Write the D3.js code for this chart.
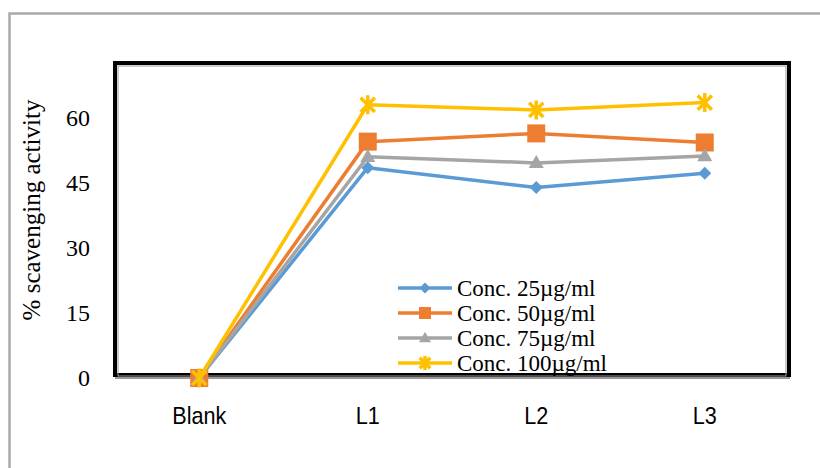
<!DOCTYPE html>
<html>
<head>
<meta charset="utf-8">
<script src="https://cdn.jsdelivr.net/npm/d3@7"></script>
<style>
  body { margin: 0; background: #fff; }
  .tick-y { font-family: 'Liberation Serif', 'Times New Roman', serif; font-size: 24px; }
  .tick-x { font-family: 'Liberation Sans', Arial, sans-serif; font-size: 24px; }
  .axis-title { font-family: 'Liberation Serif', 'Times New Roman', serif; font-size: 25px; }
  .legend text { font-family: 'Liberation Serif', 'Times New Roman', serif; font-size: 23px; }
</style>
</head>
<body>
<div class="chart"></div>
<script>
// Data
var categories = ['Blank', 'L1', 'L2', 'L3'];
var seriesNames = ['Conc. 25\u00b5g/ml', 'Conc. 50\u00b5g/ml', 'Conc. 75\u00b5g/ml', 'Conc. 100\u00b5g/ml'];
var conc25 = [0, 48.5, 43.9, 47.2];
var conc50 = [0, 54.5, 56.4, 54.3];
var conc75 = [0, 51.0, 49.6, 51.2];
var conc100 = [0, 63.0, 61.8, 63.5];
var yTicks = [0, 15, 30, 45, 60];

var seriesValues = [conc25, conc50, conc75, conc100];
var colors = ['#5B9BD5', '#ED7D31', '#A5A5A5', '#FFC000'];
var markers = ['diamond', 'square', 'triangle', 'star'];

var svgWidth = 820;
var svgHeight = 468;

var svg = d3.select('.chart')
  .append('svg')
  .attr('width', svgWidth)
  .attr('height', svgHeight);

// outer chart border (gray, runs past right/bottom edges)
svg.append('path')
  .attr('d', 'M9.5,' + svgHeight + ' V13.5 H' + svgWidth)
  .attr('fill', 'none')
  .attr('stroke', '#aaa')
  .attr('stroke-width', 2.5);

// plot area
var plot = { left: 115, right: 789, top: 64, bottom: 378 };

var xScale = d3.scalePoint()
  .domain(categories)
  .range([plot.left, plot.right])
  .padding(0.5);

var yScale = d3.scaleLinear()
  .domain([0, 72.4])
  .range([plot.bottom, plot.top]);

// frame: thick black with thin gray inner line
svg.append('rect')
  .attr('x', plot.left)
  .attr('y', plot.top - 1)
  .attr('width', plot.right - plot.left)
  .attr('height', plot.bottom - plot.top - 2)
  .attr('fill', 'none')
  .attr('stroke', '#000')
  .attr('stroke-width', 4);
svg.append('rect')
  .attr('x', plot.left + 3)
  .attr('y', plot.top + 2)
  .attr('width', plot.right - plot.left - 6)
  .attr('height', plot.bottom - plot.top - 4)
  .attr('fill', 'none')
  .attr('stroke', '#999')
  .attr('stroke-width', 1);
svg.append('line')
  .attr('x1', plot.left).attr('x2', plot.right + 1)
  .attr('y1', yScale(0)).attr('y2', yScale(0))
  .attr('stroke', '#999')
  .attr('stroke-width', 2);

// y tick labels
svg.selectAll('.tick-y')
  .data(yTicks)
  .enter()
  .append('text')
  .attr('class', 'tick-y')
  .attr('x', 90)
  .attr('y', d => yScale(d))
  .attr('dy', '0.35em')
  .attr('text-anchor', 'end')
  .text(d => d);

// x tick labels (slightly condensed like the original)
svg.selectAll('.tick-x')
  .data(categories)
  .enter()
  .append('text')
  .attr('class', 'tick-x')
  .attr('transform', d => `translate(${xScale(d)}, 416) scale(0.9, 1)`)
  .attr('dy', '0.35em')
  .attr('text-anchor', 'middle')
  .text(d => d);

// y axis title
svg.append('text')
  .attr('class', 'axis-title')
  .attr('transform', 'translate(40, 210) rotate(-90)')
  .attr('text-anchor', 'middle')
  .text('% scavenging activity');

// marker drawing helper
function drawMarker(g, type, color, s) {
  if (type === 'diamond') {
    g.append('path')
      .attr('d', `M0,${-s / 2} L${s / 2},0 L0,${s / 2} L${-s / 2},0 Z`)
      .attr('fill', color);
  } else if (type === 'square') {
    g.append('rect')
      .attr('x', -s / 2).attr('y', -s / 2)
      .attr('width', s).attr('height', s)
      .attr('fill', color);
  } else if (type === 'triangle') {
    var h = s * 0.87;
    g.append('path')
      .attr('d', `M0,${-h * 0.6} L${s / 2},${h * 0.4} L${-s / 2},${h * 0.4} Z`)
      .attr('fill', color);
  } else {
    var r = s / 2;
    var d = r * 0.75;
    g.append('path')
      .attr('d', `M0,${-r} V${r} M${-d},${-d} L${d},${d} M${-d},${d} L${d},${-d}`)
      .attr('stroke', color)
      .attr('stroke-width', 3.5)
      .attr('fill', 'none');
  }
}

var markerSizes = [13, 18, 15, 19];
var line = d3.line()
  .x((d, i) => xScale(categories[i]))
  .y(d => yScale(d));

seriesValues.forEach(function (vals, k) {
  svg.append('path')
    .datum(vals)
    .attr('d', line)
    .attr('fill', 'none')
    .attr('stroke', colors[k])
    .attr('stroke-width', 3.5)
    .attr('stroke-linejoin', 'round');
  vals.forEach(function (v, i) {
    var g = svg.append('g')
      .attr('transform', `translate(${xScale(categories[i])}, ${yScale(v)})`);
    drawMarker(g, markers[k], colors[k], markerSizes[k]);
  });
});

// legend
var legend = svg.append('g').attr('class', 'legend');
seriesNames.forEach(function (name, k) {
  var y = 288 + k * 25;
  legend.append('line')
    .attr('x1', 398).attr('x2', 452)
    .attr('y1', y).attr('y2', y)
    .attr('stroke', colors[k])
    .attr('stroke-width', 3.5);
  var g = legend.append('g').attr('transform', `translate(425, ${y})`);
  drawMarker(g, markers[k], colors[k], [11, 12, 12, 14][k]);
  legend.append('text')
    .attr('x', 457)
    .attr('y', y)
    .attr('dy', '0.35em')
    .text(name);
});
</script>
</body>
</html>
